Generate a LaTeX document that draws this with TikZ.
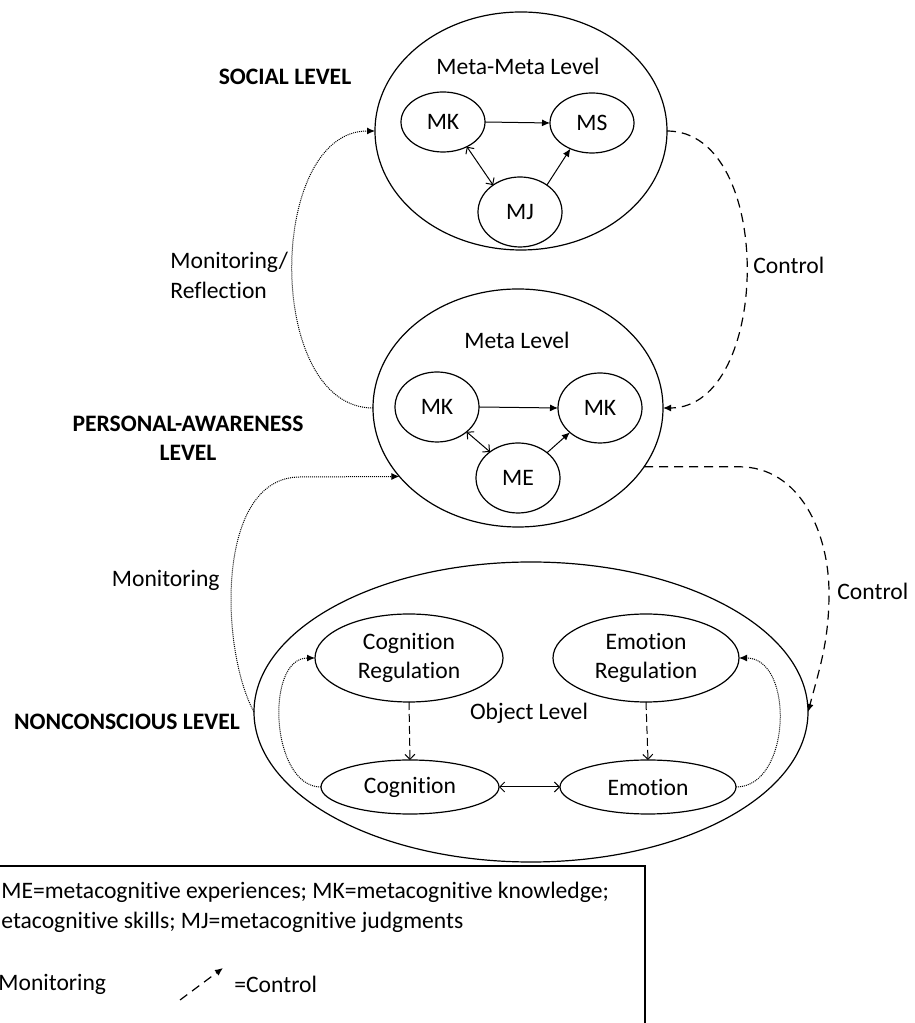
\documentclass[tikz,border=0pt]{standalone}
\usepackage{fontspec}
\setmainfont{Carlito}[Ligatures={NoCommon,NoRequired,NoContextual},RawFeature={-liga;-clig;-calt;-dlig;-rlig;-ccmp}]
\usetikzlibrary{shapes.geometric,arrows.meta}
\tikzstyle{line} = [draw, line width=0.5pt, -{Latex[length=4pt,width=3.5pt]}]
\tikzstyle{barb} = [draw, line width=0.5pt, {Straight Barb[length=2.5pt,width=5pt]}-{Straight Barb[length=2.5pt,width=5pt]}]
\tikzstyle{linedash} = [draw, line width=0.6pt, dash pattern=on 4.5pt off 3pt, -{Latex[length=4pt,width=3.5pt]}]
\tikzstyle{regdash} = [draw, line width=0.5pt, dash pattern=on 4pt off 2pt, -{Straight Barb[length=2.5pt,width=5pt]}]
\tikzstyle{linedot} = [draw, line width=0.5pt, dash pattern=on 0.5pt off 0.5pt, -{Latex[length=4pt,width=3.5pt]}]
\tikzstyle{level} = [draw, ellipse, line width=0.6pt, inner sep=0pt, outer sep=0pt]
\tikzstyle{item} = [draw, ellipse, line width=0.6pt, inner sep=0pt, outer sep=0pt, align=center, font=\fontsize{11.8}{14.5}\selectfont]
\tikzstyle{lbl} = [inner sep=0pt, align=left, font=\fontsize{11.8}{15}\selectfont]
\tikzstyle{head} = [inner sep=0pt, align=center, font=\bfseries\fontsize{11.8}{14.5}\selectfont]

\begin{document}
\begin{tikzpicture}[x=0.5pt, y=0.5pt]
    \useasboundingbox (0,0) rectangle (915,1023);
    \clip (0,0) rectangle (915,1023);
    \node [level, minimum width=146pt, minimum height=119pt] (metameta) at (521,892) {};
    \node [level, minimum width=145pt, minimum height=119pt] (meta) at (518,615) {};
    \node [level, minimum width=277pt, minimum height=150pt] (object) at (531,311) {};
    \node [lbl] (mmtitle) at (518,957) {Meta-Meta Level};
    \node [lbl] (mtitle) at (517,683) {Meta Level};
    \node [lbl] (otitle) at (529,310) {Object Level};
    \node [item, minimum width=42pt, minimum height=30pt] (mmK) at (443,901) {MK};
    \node [item, minimum width=42pt, minimum height=30pt] (mmS) at (592,900) {MS};
    \node [item, minimum width=42pt, minimum height=35pt] (mmJ) at (520,811) {MJ};
    \node [item, minimum width=42pt, minimum height=35pt] (mK) at (437,616) {MK};
    \node [item, minimum width=42pt, minimum height=35pt] (mK2) at (600,615) {MK};
    \node [item, minimum width=42pt, minimum height=35pt] (mE) at (518,545) {ME};
    \node [item, minimum width=94pt, minimum height=44pt] (cogreg) at (409,365) {Cognition\\Regulation};
    \node [item, minimum width=93pt, minimum height=44pt] (emoreg) at (646,365) {Emotion\\Regulation};
    \node [item, minimum width=89pt, minimum height=27pt] (cog) at (410,236) {Cognition};
    \node [item, minimum width=88pt, minimum height=27pt] (emo) at (648,236) {Emotion};
    \node [head] (social) at (285,946) {SOCIAL LEVEL};
    \node [head] (personal) at (188,585) {PERSONAL-AWARENESS\\LEVEL};
    \node [head] (noncon) at (127,301) {NONCONSCIOUS LEVEL};
    \node [lbl, anchor=west] (reflect) at (170,748) {Monitoring/\\Reflection};
    \node [lbl, anchor=west] (ctrltop) at (753,758) {Control};
    \node [lbl, anchor=west] (ctrlbot) at (837,432) {Control};
    \node [lbl, anchor=east] (monit) at (220,443) {Monitoring};
    \path [line] (mmK.east) -- (mmS.west);
    \path [barb] (mmK.314) -- (mmJ.135);
    \path [line] (mmJ.45) -- (mmS.230);
    \path [line] (mK.east) -- (mK2.west);
    \path [barb] (mK.320) -- (mE.137);
    \path [line] (mE.41) -- (mK2.219);
    \path [regdash] (cogreg.south) -- (cog.north);
    \path [regdash] (emoreg.south) -- (emo.north);
    \path [barb] (cog.east) -- (emo.west);
    \path [linedot] (cog.west) to[out=180,in=180] (cogreg.west);
    \path [linedot] (emo.east) to[out=0,in=0,looseness=1.1] (emoreg.east);
    \path [linedot] (meta.west) to[out=180,in=180] (metameta.west);
    \path [linedash] (metameta.east) to[out=0,in=0] (meta.east);
    \path [linedot] (object.west) .. controls (220,373) and (215,546) .. (300,546) -- (meta.210);
    \path [linedash] (meta.335) -- ++(95,0) to[out=0,in=90] (829,430) to[out=-90,in=75] (object.east);
    \draw [line width=0.6pt] (-20,-20) rectangle (645,157);
    \node [lbl, anchor=west] (keytext) at (1,116) {ME=metacognitive experiences; MK=metacognitive knowledge;\\etacognitive skills; MJ=metacognitive judgments};
    \node [lbl, anchor=west] (keymon) at (-2,39) {Monitoring};
    \coordinate (keyfrom) at (180,23);
    \coordinate (keyto) at (223,55);
    \path [linedash] (keyfrom) -- (keyto);
    \node [lbl, anchor=west] (keyctrl) at (234,39) {=Control};
\end{tikzpicture}
\end{document}
